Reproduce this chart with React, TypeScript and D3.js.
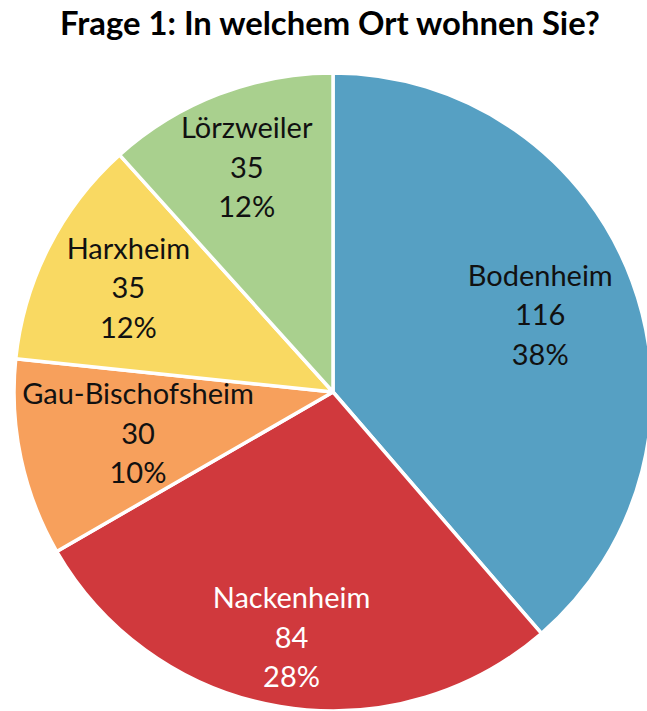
import React from "react";
import * as d3 from "d3";

const categories = ["Bodenheim", "Nackenheim", "Gau-Bischofsheim", "Harxheim", "Lörzweiler"];
const counts = [116, 84, 30, 35, 35];
const percentLabels = ["38%", "28%", "10%", "12%", "12%"];
const title = "Frage 1: In welchem Ort wohnen Sie?";

const colors = ["#56A0C3", "#D0393D", "#F7A05C", "#F9D962", "#A9D08E"];
const textColors = ["#111", "#fff", "#111", "#111", "#111"];
const labelRadiusFrac = [0.693, 0.78, 0.625, 0.72, 0.755];

const W = 647;
const H = 711;
const cx = 333;
const cy = 392;
const R = 319;
const FONT = "Lato, Carlito, Calibri, sans-serif";

export default function App() {
  const pie = d3
    .pie<number>()
    .sort(null)
    .value((d) => d)
    .startAngle(0)
    .endAngle(2 * Math.PI);
  const arcs = pie(counts);
  const arc = d3.arc<d3.PieArcDatum<number>>().innerRadius(0).outerRadius(R);

  return (
    <svg
      width={W}
      height={H}
      style={{ position: "absolute", left: 0, top: 0, background: "#fff" }}
    >
      <text
        x={330}
        y={35}
        textAnchor="middle"
        fontFamily={FONT}
        fontWeight={700}
        fontSize={32.8}
        fill="#000"
      >
        {title}
      </text>
      <g transform={`translate(${cx},${cy})`}>
        {arcs.map((a, i) => (
          <path key={i} d={arc(a) || ""} fill={colors[i]} stroke="#fff" strokeWidth={3.5} strokeLinejoin="round" />
        ))}
        {arcs.map((a, i) => {
          const mid = (a.startAngle + a.endAngle) / 2;
          const r = R * labelRadiusFrac[i];
          const x = Math.sin(mid) * r;
          const y = -Math.cos(mid) * r;
          const lines = [categories[i], String(counts[i]), percentLabels[i]];
          return (
            <text
              key={i}
              textAnchor="middle"
              fontFamily={FONT}
              fontSize={29}
              fill={textColors[i]}
            >
              {lines.map((t, j) => (
                <tspan key={j} x={x} y={y + 10.5 + (j - 1) * 39.5}>
                  {t}
                </tspan>
              ))}
            </text>
          );
        })}
      </g>
    </svg>
  );
}
